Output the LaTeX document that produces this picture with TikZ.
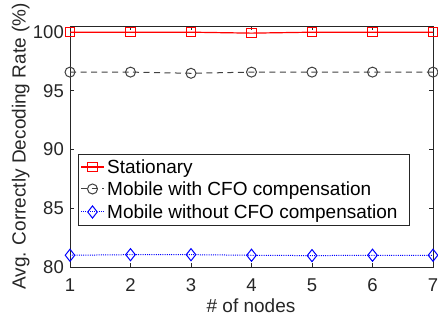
\documentclass[tikz,border=0pt]{standalone}
\usepackage{fontspec}
\setmainfont{Liberation Sans}
\usetikzlibrary{positioning,shapes.geometric,calc}
\definecolor{axisgray}{RGB}{38,38,38}
\definecolor{mobgray}{RGB}{64,64,64}
\begin{document}
\begin{tikzpicture}[x=1pt,y=1pt]

      \tikzset{axisline/.style={draw=axisgray, line width=0.8pt},
               ticklab/.style={inner sep=0pt, text=axisgray, font=\fontsize{18.5}{20}\selectfont},
               redsq/.style={draw=red, rectangle, line width=1pt, minimum size=9.5pt, inner sep=0pt},
               graycirc/.style={draw=mobgray, circle, line width=1pt, minimum size=10pt, inner sep=0pt},
               bluedia/.style={draw=blue, diamond, line width=1pt, minimum width=10pt, minimum height=12.5pt, inner sep=0pt},
               redline/.style={draw=red, line width=1.2pt},
               grayline/.style={draw=mobgray, line width=1pt, dash pattern=on 6pt off 4.5pt},
               blueline/.style={draw=blue, line width=1pt, dash pattern=on 1pt off 1.2pt},
               legtext/.style={inner sep=0pt, text height=13.6pt, text depth=0pt, font=\fontsize{19}{21}\selectfont}}

      \useasboundingbox (0,0) rectangle (438,323);

%% Axes in data units
      \begin{scope}[x=60.5pt, y=11.74pt, shift={(9.5pt,-883.2pt)}]
        \coordinate (ll) at (1,80);
        \coordinate (ur) at (7,100.5);
        \draw[axisline] (ll) rectangle (ur);

        \foreach \i in {1,...,7} {
          \draw[axisline] (\i,80) -- ++(0,4pt);
          \draw[axisline] (\i,100.5) -- ++(0,-4pt);
          \node[ticklab, anchor=base] (xt\i) at ([yshift=-25pt]\i,80) {\i};
        }
        \foreach \v in {80,85,...,100} {
          \draw[axisline] (1,\v) -- ++(4pt,0);
          \draw[axisline] (7,\v) -- ++(-4pt,0);
          \node[ticklab, anchor=east] (yt\v) at ([xshift=-6pt]1,\v) {\v};
        }

%% Stationary
        \foreach \i/\v in {1/100,2/100,3/100,4/99.92,5/100,6/100,7/100}
          \coordinate (s\i) at (\i,\v);
        \draw[redline] (s1) \foreach \i in {2,...,7} { -- (s\i) };
        \foreach \i in {1,...,7}
          \node[redsq] (sm\i) at (s\i) {};

%% Mobile with CFO compensation
        \foreach \i/\v in {1/96.6,2/96.6,3/96.5,4/96.6,5/96.6,6/96.6,7/96.6}
          \coordinate (c\i) at (\i,\v);
        \draw[grayline] (c1) \foreach \i in {2,...,7} { -- (c\i) };
        \foreach \i in {1,...,7}
          \node[graycirc] (cm\i) at (c\i) {};

%% Mobile without CFO compensation
        \foreach \i/\v in {1/81.0,2/81.05,3/81.05,4/81.0,5/80.97,6/81.0,7/81.0}
          \coordinate (d\i) at (\i,\v);
        \draw[blueline] (d1) \foreach \i in {2,...,7} { -- (d\i) };
        \foreach \i in {1,...,7}
          \node[bluedia] (dm\i) at (d\i) {};
      \end{scope}

%% Axis labels
      \node[ticklab, rotate=90, anchor=base, font=\fontsize{19}{21}\selectfont] (ylab) at (25.5,176.5) {Avg. Correctly Decoding Rate (\%)};
      \node[ticklab, anchor=base, font=\fontsize{19}{21}\selectfont] (xlab) at (251,10.3) {\# of nodes};

%% Legend
      \node[draw=axisgray, fill=white, line width=0.8pt, minimum width=331pt, minimum height=71pt, inner sep=0pt] (legbox) at (243.5,133.5) {};

      \coordinate (la1) at (81,156);  \coordinate (lb1) at (104,156);
      \coordinate (la2) at (81,134);  \coordinate (lb2) at (104,134);
      \coordinate (la3) at (81,111);  \coordinate (lb3) at (104,111);

      \draw[redline] (la1) -- (lb1);
      \node[redsq] (lm1) at ($(la1)!0.5!(lb1)$) {};
      \node[legtext, anchor=west, right=3pt of lb1] (lt1) {Stationary};

      \draw[grayline] (la2) -- (lb2);
      \node[graycirc] (lm2) at ($(la2)!0.5!(lb2)$) {};
      \node[legtext, anchor=west, right=3pt of lb2] (lt2) {Mobile with CFO compensation};

      \draw[blueline] (la3) -- (lb3);
      \node[bluedia] (lm3) at ($(la3)!0.5!(lb3)$) {};
      \node[legtext, anchor=west, right=3pt of lb3] (lt3) {Mobile without CFO compensation};
	\end{tikzpicture}
\end{document}
